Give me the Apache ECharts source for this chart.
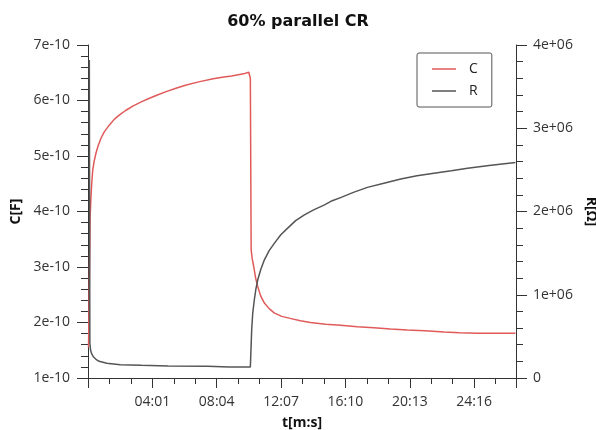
<!DOCTYPE html>
<html>
<head>
<meta charset="utf-8">
<title>60% parallel CR</title>
<script src="https://cdn.jsdelivr.net/npm/echarts@6/dist/echarts.min.js"></script>
<style>
	html, body { margin: 0; padding: 0; background: #fff; }
	#chart { width: 596px; height: 430px; }
</style>
</head>
<body>
<div id="chart"></div>
<script>
/**********************************************/
/* data */
/**********************************************/
// time offset of the axis origin (s)
let T0 = 2;

// capacitance C[F]
let T_C = [0, 4, 6, 9, 12, 16, 21, 28, 36, 47, 60, 79, 97, 117, 140, 167, 197, 230, 260, 293, 330, 369, 420, 471, 505, 540, 585, 605, 609, 611,
	614, 618, 624, 631, 639, 650, 664, 682, 702, 730, 765, 800, 838, 895, 952, 1015, 1077, 1140, 1204, 1270, 1342, 1400, 1469, 1612];
let C_VAL = [1.55e-10, 1.55e-10, 3.9e-10, 4.24e-10, 4.5e-10, 4.75e-10, 4.9e-10, 5.05e-10, 5.18e-10, 5.32e-10, 5.44e-10, 5.56e-10, 5.66e-10, 5.74e-10, 5.82e-10, 5.9e-10, 5.97e-10, 6.04e-10, 6.1e-10, 6.16e-10, 6.22e-10, 6.28e-10, 6.34e-10, 6.39e-10, 6.42e-10, 6.44e-10, 6.48e-10, 6.51e-10, 6.48e-10, 6.4e-10,
	3.31e-10, 3.15e-10, 3.0e-10, 2.8e-10, 2.645e-10, 2.48e-10, 2.35e-10, 2.25e-10, 2.17e-10, 2.11e-10, 2.07e-10, 2.03e-10, 2.0e-10, 1.97e-10, 1.95e-10, 1.925e-10, 1.906e-10, 1.885e-10, 1.865e-10, 1.85e-10, 1.83e-10, 1.815e-10, 1.805e-10, 1.805e-10];

// resistance R[Ω]
let T_R = [3, 5, 8, 12, 18, 28, 40, 69, 120, 200, 300, 450, 530, 611,
	612, 616, 620, 626, 632, 639, 650, 664, 682, 702, 726, 752, 782, 815, 850, 891, 920, 954, 1000, 1053, 1115, 1179, 1240, 1304, 1370, 1431, 1520, 1612];
let R_VAL = [3.82e6, 0.42e6, 0.33e6, 0.29e6, 0.256e6, 0.225e6, 0.2e6, 0.176e6, 0.16e6, 0.152e6, 0.145e6, 0.142e6, 0.133e6, 0.132e6,
	0.135e6, 0.58e6, 0.78e6, 0.94e6, 1.07e6, 1.18e6, 1.3e6, 1.42e6, 1.53e6, 1.62e6, 1.72e6, 1.8e6, 1.89e6, 1.96e6, 2.02e6, 2.08e6, 2.13e6, 2.17e6, 2.23e6, 2.29e6, 2.34e6, 2.39e6, 2.43e6, 2.46e6, 2.49e6, 2.52e6, 2.555e6, 2.59e6];

/**********************************************/
/* helpers */
/**********************************************/
// seconds -> mm:ss
function fmtTime(v) {
	let s = Math.round(v - T0);
	let m = Math.floor(s / 60), r = s % 60;
	return (m < 10 ? "0" : "") + m + ":" + (r < 10 ? "0" : "") + r;
}

// 4000000 -> 4e+06
function fmtR(v) {
	if (v === 0) return "0";
	return v.toExponential(0).replace(/e\+(\d)$/, "e+0$1");
}

function pairs(ts, vs) {
	let arr = [];
	for (let i = 0; i < ts.length; i++) {
		arr.push([ts[i] + T0, vs[i]]);
	}
	return arr;
}

let FONT = "Open Sans";
let AXIS_COLOR = "#333";
let LINE_ICON = "path://M0,0H24V1.5H0Z";

let chart = echarts.init(document.getElementById("chart"));

chart.setOption({
	animation: false,
	backgroundColor: "#fff",
	textStyle: { fontFamily: FONT },
	title: {
		text: "60% parallel CR",
		left: "center",
		top: 9,
		textStyle: { fontFamily: "DejaVu Sans", fontWeight: "bold", fontSize: 16, color: "#111" }
	},
	legend: {
		orient: "vertical",
		left: 417,
		top: 53,
		padding: [9, 14, 9, 15],
		itemWidth: 24,
		itemHeight: 14,
		itemGap: 8,
		borderColor: "#555",
		borderWidth: 1,
		borderRadius: 2,
		backgroundColor: "#fff",
		textStyle: { fontSize: 14, color: "#222", padding: [0, 0, 0, 8] },
		data: [
			{ name: "C", icon: LINE_ICON },
			{ name: "R", icon: LINE_ICON }
		]
	},
	grid: { left: 88, right: 80, top: 45, bottom: 52, containLabel: false, outerBoundsMode: "none" },
	xAxis: {
		type: "value",
		min: 0,
		max: 1616,
		interval: 243,
		name: "t[m:s]",
		nameLocation: "middle",
		nameGap: 38,
		nameTextStyle: { fontWeight: "bold", fontSize: 14, color: "#111" },
		axisLine: { lineStyle: { color: AXIS_COLOR } },
		axisTick: { length: 10, lineStyle: { color: AXIS_COLOR } },
		minorTick: { show: true, splitNumber: 3, length: 6, lineStyle: { color: AXIS_COLOR } },
		axisLabel: {
			margin: 17,
			fontSize: 14,
			color: "#333",
			showMinLabel: false,
			showMaxLabel: false,
			formatter: fmtTime
		},
		splitLine: { show: false }
	},
	yAxis: [
		{
			type: "value",
			min: 1e-10,
			max: 7e-10,
			interval: 1e-10,
			name: "C[F]",
			nameLocation: "middle",
			nameGap: 64,
			nameTextStyle: { fontWeight: "bold", fontSize: 14, color: "#111" },
			axisLine: { show: true, lineStyle: { color: AXIS_COLOR } },
			axisTick: { show: true, length: 11, lineStyle: { color: AXIS_COLOR } },
			minorTick: { show: true, splitNumber: 5, length: 7, lineStyle: { color: AXIS_COLOR } },
			axisLabel: {
				margin: 18,
				fontSize: 14,
				color: "#333",
				formatter: function (v) { return v.toExponential(0); }
			},
			splitLine: { show: false }
		},
		{
			type: "value",
			min: 0,
			max: 4e6,
			interval: 1e6,
			position: "right",
			name: "R[Ω]",
			nameLocation: "middle",
			nameGap: 66,
			nameRotate: -90,
			nameTextStyle: { fontWeight: "bold", fontSize: 14, color: "#111" },
			axisLine: { show: true, lineStyle: { color: AXIS_COLOR } },
			axisTick: { show: true, length: 11, lineStyle: { color: AXIS_COLOR } },
			minorTick: { show: true, splitNumber: 5, length: 7, lineStyle: { color: AXIS_COLOR } },
			axisLabel: {
				margin: 17,
				fontSize: 14,
				color: "#333",
				formatter: fmtR
			},
			splitLine: { show: false }
		}
	],
	series: [
		{
			name: "C",
			type: "line",
			yAxisIndex: 0,
			showSymbol: false,
			symbol: "none",
			color: "#e05a5a",
			lineStyle: { width: 1.5, color: "#e05a5a" },
			data: pairs(T_C, C_VAL)
		},
		{
			name: "R",
			type: "line",
			yAxisIndex: 1,
			showSymbol: false,
			symbol: "none",
			color: "#555",
			lineStyle: { width: 1.5, color: "#555" },
			data: pairs(T_R, R_VAL)
		}
	]
});
</script>
</body>
</html>
